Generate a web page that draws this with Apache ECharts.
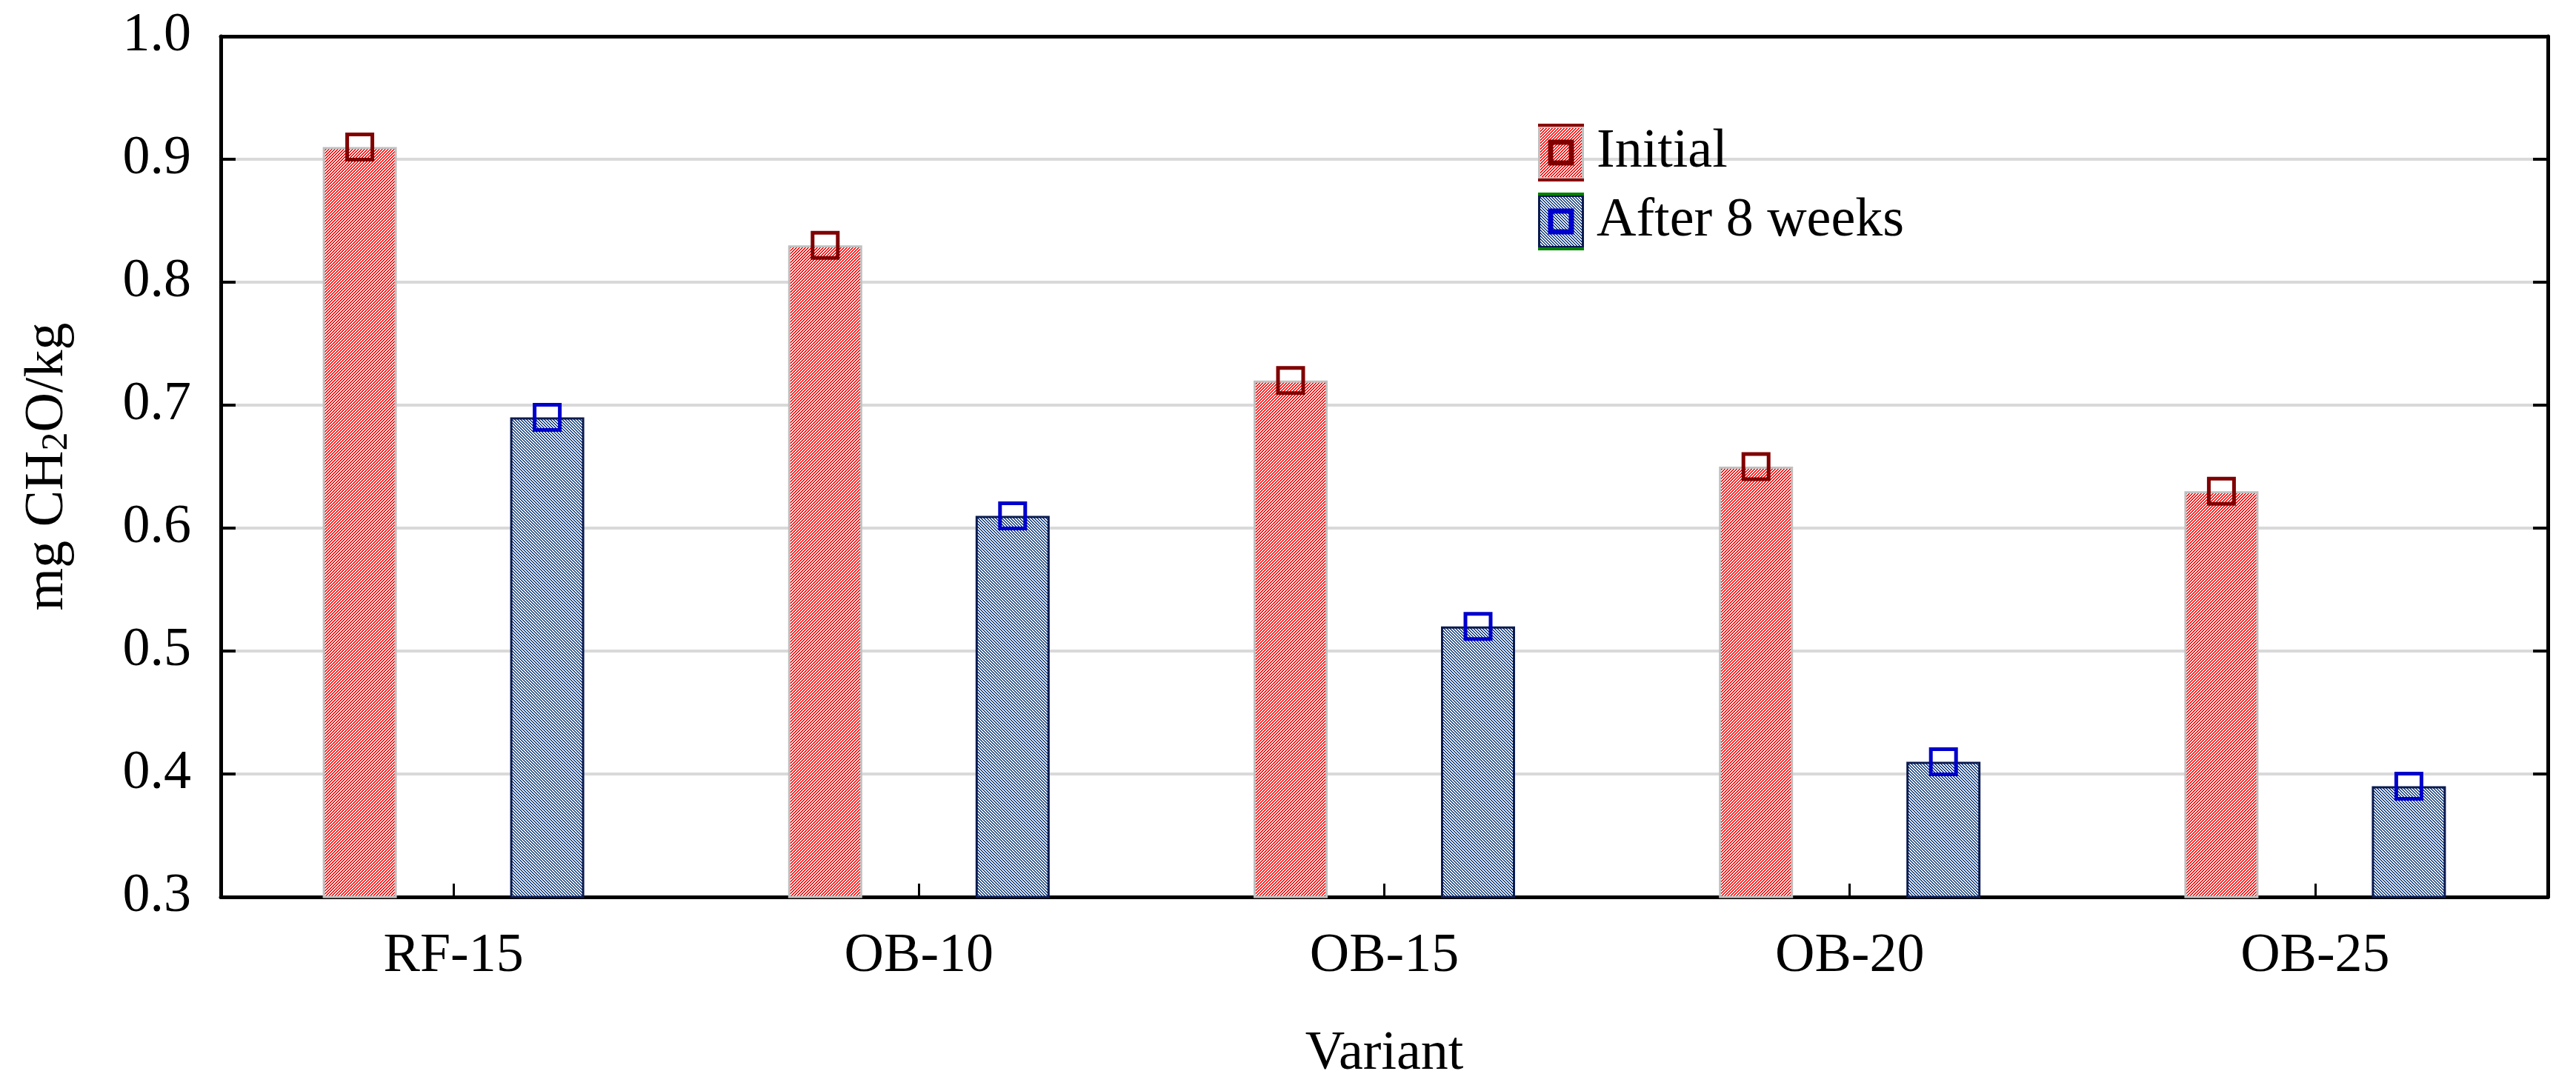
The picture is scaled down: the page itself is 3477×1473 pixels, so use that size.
<!DOCTYPE html>
<html>
<head>
<meta charset="utf-8">
<script src="https://cdn.jsdelivr.net/npm/echarts@6/dist/echarts.min.js"></script>
<style>
html,body{margin:0;padding:0;background:#fff;}
#chart{width:3477px;height:1473px;}
</style>
</head>
<body>
<div id="chart"></div>
<script>
// ---- data ----
const categories = ['RF-15', 'OB-10', 'OB-15', 'OB-20', 'OB-25'];
const initialValues = [0.91, 0.83, 0.72, 0.65, 0.63];
const after8Values = [0.69, 0.61, 0.52, 0.41, 0.39];
const seriesNames = ['Initial', 'After 8 weeks'];
const yMin = 0.3, yMax = 1.0, yStep = 0.1;
const xAxisTitle = 'Variant';
const yAxisTitle = 'mg CH{s|2}O/kg';

// ---- styles ----
const FONT = "'Liberation Serif', 'Times New Roman', serif";

function hatchTile(color, forward) {
  const c = document.createElement('canvas');
  c.width = 4; c.height = 4;
  const ctx = c.getContext('2d');
  ctx.fillStyle = '#ffffff';
  ctx.fillRect(0, 0, 4, 4);
  ctx.fillStyle = color;
  for (let x = 0; x < 4; x++) {
    for (let y = 0; y < 4; y++) {
      const k = forward ? (x + y) % 4 : (x - y + 8) % 4;
      if (k === 0 || k === 1) ctx.fillRect(x, y, 1, 1);
    }
  }
  return c;
}
const redTile = hatchTile('#ff0000', true);
const blueTile = hatchTile('#1c4585', false);

function legendIcon(tile, borderColor, capColor, markColor) {
  const w = 62, h = 78;
  const c = document.createElement('canvas');
  c.width = w; c.height = h;
  const ctx = c.getContext('2d');
  ctx.fillStyle = ctx.createPattern(tile, 'repeat');
  ctx.fillRect(0, 3, w, h - 6);
  ctx.strokeStyle = borderColor;
  ctx.lineWidth = 3;
  ctx.strokeRect(1.5, 4.5, w - 3, h - 9);
  ctx.fillStyle = capColor;
  ctx.fillRect(0, 0, w, 4);
  ctx.fillRect(0, h - 4, w, 4);
  ctx.strokeStyle = markColor;
  ctx.lineWidth = 7;
  ctx.strokeRect(w / 2 - 14, h / 2 - 14, 28, 28);
  return 'image://' + c.toDataURL();
}

const chart = echarts.init(document.getElementById('chart'), null, {renderer: 'canvas'});

function barSeries(name, values, tile, borderColor, markColor) {
  return {
    name: name,
    type: 'bar',
    xAxisIndex: 0,
    yAxisIndex: 0,
    data: values,
    barWidth: 100,
    barGap: '153%',
    itemStyle: {
      color: {image: tile, repeat: 'repeat'},
      borderColor: borderColor,
      borderWidth: 3
    },
    emphasis: {disabled: true},
    markPoint: {
      symbol: 'rect',
      symbolSize: 34,
      silent: true,
      label: {show: false},
      itemStyle: {color: 'rgba(0,0,0,0)', borderColor: markColor, borderWidth: 5},
      data: values.map((v, i) => ({coord: [i, v]}))
    }
  };
}

const option = {
  backgroundColor: '#ffffff',
  animation: false,
  grid: {left: 293, right: 38, top: 49, bottom: 262, containLabel: false},
  legend: {
    orient: 'vertical',
    left: 2071,
    top: 162,
    itemWidth: 62,
    itemHeight: 78,
    itemGap: 15,
    selectedMode: false,
    textStyle: {fontFamily: FONT, fontSize: 74, color: '#000', padding: [0, 0, 0, 12]},
    data: [
      {name: seriesNames[0], icon: legendIcon(redTile, '#c0c0c0', '#8b0000', '#800000')},
      {name: seriesNames[1], icon: legendIcon(blueTile, '#0b1a4f', '#008000', '#0000cc')}
    ]
  },
  xAxis: [
    {
      type: 'category',
      data: categories,
      position: 'bottom',
      name: xAxisTitle,
      nameLocation: 'middle',
      nameGap: 176,
      nameTextStyle: {fontFamily: FONT, fontSize: 74, color: '#000'},
      axisLine: {show: true, lineStyle: {color: '#000', width: 5}},
      axisTick: {show: true, inside: true, alignWithLabel: true, length: 18, lineStyle: {color: '#000', width: 3}},
      axisLabel: {fontFamily: FONT, fontSize: 74, color: '#000', margin: 44},
      splitLine: {show: false}
    },
    {
      type: 'category',
      data: categories,
      position: 'top',
      axisLine: {show: true, lineStyle: {color: '#000', width: 5}},
      axisTick: {show: false},
      axisLabel: {show: false},
      splitLine: {show: false}
    }
  ],
  yAxis: [
    {
      type: 'value',
      min: yMin,
      max: yMax,
      interval: yStep,
      position: 'left',
      name: yAxisTitle,
      nameLocation: 'middle',
      nameGap: 196,
      nameRotate: 90,
      nameTextStyle: {
        fontFamily: FONT, fontSize: 74, color: '#000', lineHeight: 74,
        rich: {s: {fontFamily: FONT, fontSize: 50, lineHeight: 50, padding: [44, 0, 0, 0], verticalAlign: 'bottom', color: '#000'}}
      },
      axisLine: {show: true, lineStyle: {color: '#000', width: 5}},
      axisTick: {show: true, inside: true, length: 20, lineStyle: {color: '#000', width: 4}},
      axisLabel: {fontFamily: FONT, fontSize: 74, color: '#000', margin: 40, formatter: v => v.toFixed(1)},
      splitLine: {show: true, lineStyle: {color: '#d9d9d9', width: 4}}
    },
    {
      type: 'value',
      min: yMin,
      max: yMax,
      interval: yStep,
      position: 'right',
      axisLine: {show: true, lineStyle: {color: '#000', width: 5}},
      axisTick: {show: true, inside: true, length: 20, lineStyle: {color: '#000', width: 4}},
      axisLabel: {show: false},
      splitLine: {show: false}
    }
  ],
  series: [
    barSeries(seriesNames[0], initialValues, redTile, '#c0c0c0', '#800000'),
    barSeries(seriesNames[1], after8Values, blueTile, '#0b1a4f', '#0000cc')
  ]
};
chart.setOption(option);
</script>
</body>
</html>
